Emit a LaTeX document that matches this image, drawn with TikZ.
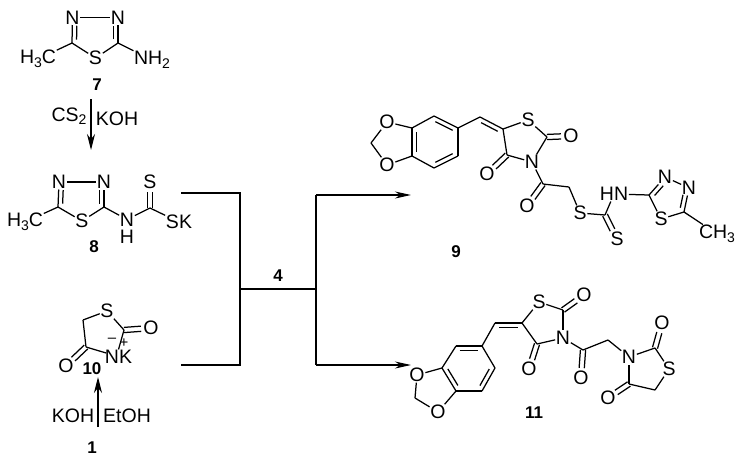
\documentclass[tikz,border=0pt]{standalone}
\usepackage{fontspec}
\setmainfont{Liberation Sans}
\usetikzlibrary{calc,arrows.meta}
\newcommand\sbs[1]{\raisebox{-3.5pt}{\fontsize{14}{15}\selectfont #1}}
% a double bond drawn as a main line and a shorter inner line
\newcommand\inn[4][.86]{\draw[bond] (#2) -- (#3);
  \draw[bond] ($(#2)!.14!(#3)!4.5pt!#4:(#3)$) -- ($(#2)!#1!(#3)!4.5pt!#4:(#3)$);}
% a symmetric double bond: shortening at each end, then the two atoms
\newcommand\dbl[4]{\draw[bond,shorten <=#1pt,shorten >=#2pt] ($(#3)!2.6pt!90:(#4)$) -- ($(#4)!2.6pt!-90:(#3)$);
  \draw[bond,shorten <=#1pt,shorten >=#2pt] ($(#3)!2.6pt!-90:(#4)$) -- ($(#4)!2.6pt!90:(#3)$);}
\tikzset{
  bond/.style={line width=1.25pt,black},
  link/.style={line width=1.1pt,black},
  reac/.style={line width=1.1pt,black,-{Stealth[length=16pt,width=8pt]}},
  atomlabel/.style={inner sep=0.6pt,font=\fontsize{19.5}{21}\selectfont},
  cmpd/.style={inner sep=0pt,font=\fontsize{17}{19}\selectfont\bfseries},
  chg/.style={inner sep=0pt,font=\fontsize{15}{16}\selectfont}
}
\begin{document}
\begin{tikzpicture}[x=1pt,y=-1pt]
\useasboundingbox (0,0) rectangle (744,464);
% ---------- 7
\node[atomlabel] (n7a) at (72.5,17.5) {N};
\node[atomlabel] (n7b) at (118,17.5) {N};
\node[atomlabel] (s7) at (95.5,58) {S};
\node[atomlabel] (me7) at (38,59) {H\sbs{3}C};
\node[atomlabel] (nh7) at (152,60) {NH\sbs{2}};
\coordinate (c7a) at (72,43);
\coordinate (c7b) at (118,43);
\draw[bond] (n7a) -- (n7b);
\inn[.68]{c7a}{n7a}{-90}
\inn[.68]{c7b}{n7b}{90}
\draw[bond] (c7a) -- (s7);
\draw[bond] (c7b) -- (s7);
\draw[bond] (c7a) -- (me7);
\draw[bond] (c7b) -- (nh7);
\node[cmpd] (l7) at (97,85) {7};
% arrow 7 -> 8
\coordinate (a7s) at (91,99);
\coordinate (a7e) at (91,150);
\draw[reac] (a7s) -- (a7e);
\node[atomlabel] (cs2) at (69,116) {CS\sbs{2}};
\node[atomlabel] (koh1) at (117,118.5) {KOH};
% ---------- 8
\node[atomlabel] (n8a) at (59,182) {N};
\node[atomlabel] (n8b) at (104,182) {N};
\node[atomlabel] (s8) at (82,221) {S};
\node[atomlabel] (me8) at (25,222) {H\sbs{3}C};
\node[atomlabel] (n8c) at (127,219.5) {N};
\node[atomlabel] (h8) at (127,236.5) {H};
\node[atomlabel] (s8t) at (150,182) {S};
\node[atomlabel] (sk8) at (179,222) {SK};
\coordinate (c8a) at (58,207);
\coordinate (c8b) at (104,207);
\coordinate (c8c) at (150,208);
\draw[bond] (n8a) -- (n8b);
\inn[.68]{c8a}{n8a}{-90}
\inn[.68]{c8b}{n8b}{90}
\draw[bond] (c8a) -- (s8);
\draw[bond] (c8b) -- (s8);
\draw[bond] (c8a) -- (me8);
\draw[bond] (c8b) -- (n8c);
\draw[bond] (n8c) -- (c8c);
\draw[bond] (c8c) -- (sk8);
\dbl{0}{10}{c8c}{s8t}
\node[cmpd] (l8) at (94,247) {8};
% ---------- 10
\node[atomlabel] (s10) at (107,311) {S};
\node[atomlabel] (o10a) at (151,328) {O};
\node[atomlabel] (nk10) at (118.5,357) {NK};
\node[atomlabel] (o10b) at (66,366) {O};
\node[chg] (minus10) at (112,340) {–};
\node[chg] (plus10) at (124,343) {+};
\coordinate (c10a) at (124,330);
\coordinate (c10b) at (86,347);
\coordinate (c10c) at (83,320);
\draw[bond] (s10) -- (c10a);
\dbl{0}{10}{c10a}{o10a}
\draw[bond] (c10a) -- (nk10.north);
\draw[bond] (c10b) -- ($(nk10.west)+(2,-4)$);
\dbl{0}{10}{c10b}{o10b}
\draw[bond] (c10b) -- (c10c);
\draw[bond] (c10c) -- (s10);
\node[cmpd] (l10) at (92,369) {10};
% arrow 1 -> 10
\coordinate (a1s) at (98,427);
\coordinate (a1e) at (98,377);
\draw[reac] (a1s) -- (a1e);
\node[atomlabel] (koh2) at (73,416) {KOH};
\node[atomlabel] (etoh) at (127,416) {EtOH};
\node[cmpd] (l1) at (92,448) {1};
% ---------- connecting lines
\coordinate (j1) at (181,193);
\coordinate (j2) at (240,193);
\coordinate (j3) at (240,365);
\coordinate (j4) at (181,365);
\coordinate (j5) at (240,289);
\coordinate (j6) at (316,289);
\coordinate (j7) at (316,195);
\coordinate (j8) at (316,365);
\coordinate (t9) at (411,195);
\coordinate (t11) at (411,365);
\draw[link] (j1) -- (j2) -- (j3) -- (j4);
\draw[link] (j5) -- (j6);
\draw[link] (j7) -- (j8);
\draw[reac,-{Stealth[length=16pt,width=7pt]}] (j7) -- (t9);
\draw[reac,-{Stealth[length=16pt,width=7pt]}] (j8) -- (t11);
\node[cmpd] (l4) at (278,276) {4};
% ---------- 9
\node[atomlabel] (o9a) at (387,122) {O};
\node[atomlabel] (o9b) at (387,165) {O};
\coordinate (c9m) at (371,143);
\coordinate (b1) at (412,128);
\coordinate (b2) at (434,116);
\coordinate (b3) at (458,128);
\coordinate (b4) at (458,156);
\coordinate (b5) at (434,168);
\coordinate (b6) at (412,156);
\draw[bond] (c9m) -- (o9a);
\draw[bond] (c9m) -- (o9b);
\draw[bond] (o9a) -- (b1);
\draw[bond] (o9b) -- (b6);
\inn{b6}{b1}{-90}
\draw[bond] (b1) -- (b2);
\inn{b2}{b3}{-90}
\draw[bond] (b3) -- (b4);
\inn{b4}{b5}{-90}
\draw[bond] (b5) -- (b6);
\coordinate (c9h) at (480,117);
\coordinate (c9e) at (503,129);
\coordinate (c9f) at (547,137);
\coordinate (c9g) at (507,155);
\coordinate (c9k) at (543,184);
\coordinate (c9n) at (569,187);
\coordinate (c9p) at (605,215);
\coordinate (c9q) at (649,195);
\coordinate (c9r) at (684,212);
\node[atomlabel] (s9a) at (528,120) {S};
\node[atomlabel] (n9) at (532,162) {N};
\node[atomlabel] (o9c) at (571,136) {O};
\node[atomlabel] (o9d) at (487,174) {O};
\node[atomlabel] (o9e) at (527,206) {O};
\node[atomlabel] (s9b) at (580,213) {S};
\node[atomlabel] (s9c) at (617,239) {S};
\node[atomlabel] (hn9) at (614,194) {HN};
\node[atomlabel] (n9a) at (665,177) {N};
\node[atomlabel] (n9b) at (689,188) {N};
\node[atomlabel] (s9d) at (661,219) {S};
\node[atomlabel] (me9) at (717,234) {CH\sbs{3}};
\draw[bond] (b3) -- (c9h);
\inn{c9h}{c9e}{-90}
\draw[bond] (c9e) -- (s9a);
\draw[bond] (s9a) -- (c9f);
\dbl{0}{10}{c9f}{o9c}
\draw[bond] (c9f) -- (n9);
\draw[bond] (n9) -- (c9g);
\draw[bond] (c9g) -- (c9e);
\dbl{0}{10}{c9g}{o9d}
\draw[bond] (n9) -- (c9k);
\dbl{0}{10}{c9k}{o9e}
\draw[bond] (c9k) -- (c9n);
\draw[bond] (c9n) -- (s9b);
\draw[bond] (s9b) -- (c9p);
\dbl{0}{10}{c9p}{s9c}
\draw[bond] (c9p) -- (hn9);
\draw[bond] (hn9) -- (c9q);
\inn[.68]{c9q}{n9a}{-90}
\draw[bond] (n9a) -- (n9b);
\inn[.68]{c9r}{n9b}{90}
\draw[bond] (c9r) -- (s9d);
\draw[bond] (s9d) -- (c9q);
\draw[bond] (c9r) -- (me9);
\node[cmpd] (l9) at (456,252) {9};
% ---------- 11
\node[atomlabel] (o11a) at (417,375) {O};
\node[atomlabel] (o11b) at (438,412) {O};
\coordinate (c11m) at (415,398);
\coordinate (d1) at (442,368);
\coordinate (d2) at (456,346);
\coordinate (d3) at (482,346);
\coordinate (d4) at (495,368);
\coordinate (d5) at (482,391);
\coordinate (d6) at (456,391);
\draw[bond] (c11m) -- (o11a);
\draw[bond] (c11m) -- (o11b);
\draw[bond] (o11a) -- (d1);
\draw[bond] (o11b) -- (d6);
\inn{d6}{d1}{-90}
\draw[bond] (d1) -- (d2);
\inn{d2}{d3}{-90}
\draw[bond] (d3) -- (d4);
\inn{d4}{d5}{-90}
\draw[bond] (d5) -- (d6);
\coordinate (c11h) at (495,323);
\coordinate (c11e) at (522,323);
\coordinate (c11f) at (563,310);
\coordinate (c11g) at (537,344);
\coordinate (c11k) at (583,350);
\coordinate (c11n) at (608,340);
\coordinate (c11p) at (655,348);
\coordinate (c11q) at (655,390);
\coordinate (c11r) at (629,384);
\node[atomlabel] (s11a) at (539,302) {S};
\node[atomlabel] (n11a) at (563,338) {N};
\node[atomlabel] (o11c) at (584,295) {O};
\node[atomlabel] (o11d) at (529,369) {O};
\node[atomlabel] (o11e) at (581,378) {O};
\node[atomlabel] (n11b) at (629,357) {N};
\node[atomlabel] (o11f) at (662,323) {O};
\node[atomlabel] (s11b) at (669,369) {S};
\node[atomlabel] (o11g) at (608,398) {O};
\draw[bond] (d3) -- (c11h);
\inn{c11h}{c11e}{-90}
\draw[bond] (c11e) -- (s11a);
\draw[bond] (s11a) -- (c11f);
\dbl{0}{10}{c11f}{o11c}
\draw[bond] (c11f) -- (n11a);
\draw[bond] (n11a) -- (c11g);
\draw[bond] (c11g) -- (c11e);
\dbl{0}{10}{c11g}{o11d}
\draw[bond] (n11a) -- (c11k);
\dbl{0}{10}{c11k}{o11e}
\draw[bond] (c11k) -- (c11n);
\draw[bond] (c11n) -- (n11b);
\draw[bond] (n11b) -- (c11p);
\dbl{0}{10}{c11p}{o11f}
\draw[bond] (c11p) -- (s11b);
\draw[bond] (s11b) -- (c11q);
\draw[bond] (c11q) -- (c11r);
\draw[bond] (c11r) -- (n11b);
\dbl{0}{10}{c11r}{o11g}
\node[cmpd] (l11) at (534,413) {11};
\end{tikzpicture}
\end{document}
